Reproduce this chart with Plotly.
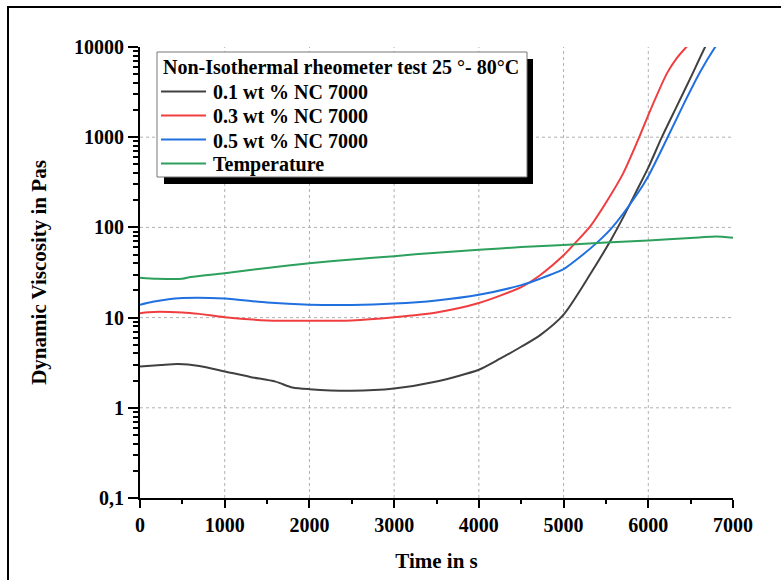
import plotly.graph_objects as go

# ---------------- data ----------------
t_01 = [0, 250, 450, 700, 1000, 1300, 1600, 1800, 2000, 2500, 3000, 3500, 4000, 4250,
        4500, 4724, 5000, 5312, 5567, 5705, 5863, 6000, 6160, 6330, 6500, 6671, 6750]
v_01 = [2.87, 2.98, 3.05, 2.9, 2.53, 2.2, 1.95, 1.68, 1.61, 1.55, 1.64, 1.96, 2.64, 3.5,
        4.75, 6.4, 10.8, 30, 75, 130, 255, 460, 1000, 2140, 4570, 10000, 13500]

t_03 = [0, 100, 500, 700, 1000, 1500, 2000, 2500, 3000, 3500, 4000, 4500, 4722, 5000,
        5136, 5312, 5509, 5705, 5883, 6020, 6220, 6330, 6450, 6520]
v_03 = [11.2, 11.5, 11.4, 11.0, 10.1, 9.3, 9.2, 9.3, 10.1, 11.4, 14.5, 21.8, 29.5, 49,
        67, 102, 194, 400, 950, 1950, 5100, 7400, 10000, 11600]

t_05 = [0, 150, 300, 500, 1000, 1500, 2000, 2500, 3000, 3500, 4000, 4500, 4722, 5000,
        5155, 5411, 5567, 5863, 6000, 6220, 6415, 6610, 6790, 6850]
v_05 = [13.9, 15.0, 15.8, 16.5, 16.3, 14.7, 13.9, 13.8, 14.3, 15.5, 17.9, 22.9, 27, 34.5,
        44, 70, 98, 230, 370, 960, 2300, 5250, 10000, 12000]

t_temp = [0, 200, 500, 600, 1000, 1500, 2000, 2500, 3000, 3500, 4000, 4500, 5000, 5500,
          6000, 6600, 6800, 7000]
v_temp = [27.7, 27.0, 27.0, 28.2, 31, 35.5, 40, 44, 48, 52.5, 56.5, 60.5, 63.8, 67.8,
          71.5, 77.5, 79.5, 77]

series_names = ["0.1 wt % NC 7000", "0.3 wt % NC 7000", "0.5 wt % NC 7000", "Temperature"]
legend_title = "Non-Isothermal rheometer test 25 °- 80°C"

x_ticks = [0, 1000, 2000, 3000, 4000, 5000, 6000, 7000]
y_ticks = [0.1, 1, 10, 100, 1000, 10000]
y_ticktext = ["0,1", "1", "10", "100", "1000", "10000"]
x_grid = [1000, 2000, 3000, 4000, 5000, 6000]
y_grid = [1, 10, 100, 1000]

# ---------------- styling ----------------
FONT = "Liberation Serif"
colors = ["#404040", "#f03e40", "#2070e0", "#2ca05c"]

fig = go.Figure()
for t, v, name, c in zip([t_01, t_03, t_05, t_temp], [v_01, v_03, v_05, v_temp],
                         series_names, colors):
    fig.add_trace(go.Scatter(x=t, y=v, mode="lines", name=name, showlegend=False,
                             line=dict(color=c, width=2, shape="spline", smoothing=0.7)))

# plot-area geometry in pixels
W, H = 781, 580
PL, PR, PT, PB = 140, 733, 47, 498
def px2x(px): return (px - PL) / (PR - PL)
def py2y(py): return (PB - py) / (PB - PT)

shapes = []
for gx in x_grid:
    shapes.append(dict(type="line", xref="x", yref="paper", x0=gx, x1=gx, y0=0, y1=1,
                       line=dict(color="#b0b0b0", width=1, dash="dot"), layer="below"))
for gy in y_grid:
    shapes.append(dict(type="line", xref="paper", yref="y", x0=0, x1=1, y0=gy, y1=gy,
                       line=dict(color="#b0b0b0", width=1, dash="dot"), layer="below"))

# outer frame (left/top edges visible)
shapes.append(dict(type="rect", xref="paper", yref="paper",
                   x0=px2x(8), x1=px2x(900), y0=py2y(7), y1=py2y(700),
                   line=dict(color="black", width=2), fillcolor="rgba(0,0,0,0)", layer="above"))

# ---- legend box (drawn manually, with drop shadow) ----
LX0, LX1, LY0, LY1 = 157, 527, 52, 177
shapes.append(dict(type="rect", xref="paper", yref="paper",
                   x0=px2x(LX0 + 7), x1=px2x(LX1 + 6), y0=py2y(LY0 + 7), y1=py2y(LY1 + 7),
                   line=dict(width=0), fillcolor="black", layer="above"))
shapes.append(dict(type="rect", xref="paper", yref="paper",
                   x0=px2x(LX0), x1=px2x(LX1), y0=py2y(LY0), y1=py2y(LY1),
                   line=dict(color="#777777", width=1), fillcolor="white", layer="above"))

annotations = [dict(xref="paper", yref="paper", x=px2x(161), y=py2y(67),
                    xanchor="left", yanchor="middle", showarrow=False,
                    text="<b>" + legend_title + "</b>",
                    font=dict(family=FONT, size=20, color="black"))]
row_y = [91.5, 115.5, 139.5, 163.5]
for name, c, ry in zip(series_names, colors, row_y):
    shapes.append(dict(type="line", xref="paper", yref="paper",
                       x0=px2x(161), x1=px2x(206), y0=py2y(ry), y1=py2y(ry),
                       line=dict(color=c, width=2), layer="above"))
    annotations.append(dict(xref="paper", yref="paper", x=px2x(211), y=py2y(ry + 1),
                            xanchor="left", yanchor="middle", showarrow=False,
                            text="<b>" + name + "</b>",
                            font=dict(family=FONT, size=20, color="black")))

fig.update_layout(
    width=W, height=H,
    margin=dict(l=PL, r=W - PR, t=PT, b=H - PB),
    paper_bgcolor="white", plot_bgcolor="white",
    font=dict(family=FONT, size=20, color="black"),
    shapes=shapes, annotations=annotations,
    showlegend=False,
    xaxis=dict(
        range=[0, 7000], tickvals=x_ticks, ticks="outside", ticklen=8, tickwidth=2,
        tickcolor="black", showline=True, linecolor="black", linewidth=2,
        showgrid=False, zeroline=False,
        tickfont=dict(family=FONT, size=20, color="black", weight="bold"),
        minor=dict(dtick=500, ticks="outside", ticklen=4, tickwidth=2, tickcolor="black",
                   showgrid=False),
        title=dict(text="<b>Time in s</b>", standoff=18,
                   font=dict(family=FONT, size=21, color="black")),
    ),
    yaxis=dict(
        type="log", range=[-1, 4], tickvals=y_ticks, ticktext=y_ticktext,
        ticks="outside", ticklen=10, tickwidth=2, tickcolor="black",
        showline=True, linecolor="black", linewidth=2, showgrid=False, zeroline=False,
        tickfont=dict(family=FONT, size=20, color="black", weight="bold"),
        minor=dict(dtick="D1", ticks="outside", ticklen=5, tickwidth=1.5,
                   tickcolor="black", showgrid=False),
        title=dict(text="<b>Dynamic Viscosity in Pas</b>", standoff=22,
                   font=dict(family=FONT, size=21, color="black")),
    ),
)

fig.write_html("out.html")
